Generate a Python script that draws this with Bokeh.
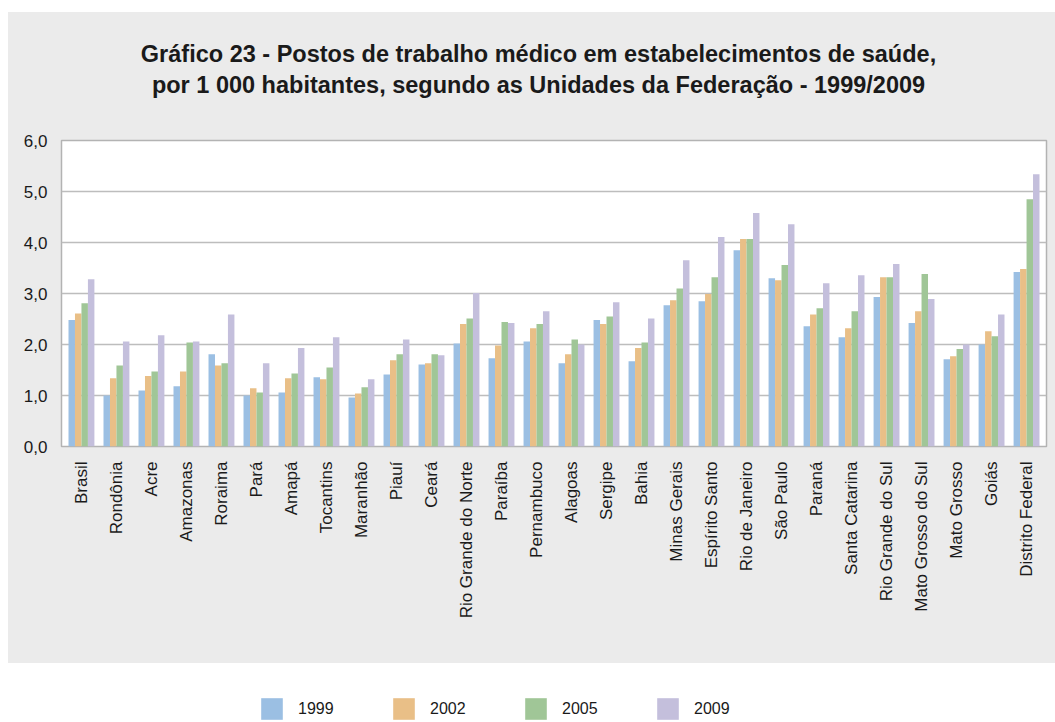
import math
from bokeh.plotting import figure
from bokeh.models import (FactorRange, Range1d, FixedTicker, Legend, LegendItem,
                          ColumnDataSource, Spacer)
from bokeh.core.properties import value
from bokeh.layouts import column, row
from bokeh.transform import dodge
from bokeh.embed import file_html
from bokeh.resources import INLINE

categories = ["Brasil", "Rondônia", "Acre", "Amazonas", "Roraima", "Pará", "Amapá",
              "Tocantins", "Maranhão", "Piauí", "Ceará", "Rio Grande do Norte", "Paraíba",
              "Pernambuco", "Alagoas", "Sergipe", "Bahia", "Minas Gerais", "Espírito Santo",
              "Rio de Janeiro", "São Paulo", "Paraná", "Santa Catarina", "Rio Grande do Sul",
              "Mato Grosso do Sul", "Mato Grosso", "Goiás", "Distrito Federal"]

v1999 = [2.48, 1.00, 1.10, 1.18, 1.81, 1.00, 1.06, 1.36, 0.96, 1.41, 1.61, 2.02, 1.73, 2.06,
         1.63, 2.48, 1.67, 2.77, 2.85, 3.85, 3.30, 2.36, 2.14, 2.93, 2.42, 1.71, 2.00, 3.42]
v2002 = [2.61, 1.34, 1.38, 1.47, 1.59, 1.14, 1.34, 1.32, 1.04, 1.69, 1.63, 2.40, 1.98, 2.32,
         1.81, 2.40, 1.93, 2.87, 2.99, 4.07, 3.26, 2.59, 2.32, 3.32, 2.65, 1.77, 2.26, 3.48]
v2005 = [2.81, 1.59, 1.47, 2.04, 1.63, 1.06, 1.43, 1.55, 1.16, 1.81, 1.81, 2.51, 2.44, 2.40,
         2.10, 2.55, 2.04, 3.10, 3.32, 4.07, 3.56, 2.71, 2.65, 3.32, 3.38, 1.91, 2.16, 4.85]
v2009 = [3.28, 2.06, 2.18, 2.06, 2.59, 1.63, 1.93, 2.14, 1.32, 2.10, 1.79, 3.01, 2.42, 2.65,
         2.00, 2.83, 2.51, 3.65, 4.11, 4.58, 4.36, 3.20, 3.36, 3.58, 2.89, 2.00, 2.59, 5.34]

series_names = ["1999", "2002", "2005", "2009"]
series_keys = ["v1999", "v2002", "v2005", "v2009"]
colors = ["#9bbfe3", "#e9bf87", "#a0c697", "#c4bfdc"]

y_ticks = [0, 1, 2, 3, 4, 5, 6]
y_tick_labels = ["0,0", "1,0", "2,0", "3,0", "4,0", "5,0", "6,0"]

title_lines = ["Gráfico 23 - Postos de trabalho médico em estabelecimentos de saúde,",
               "por 1 000 habitantes, segundo as Unidades da Federação - 1999/2009"]

FONT = "Liberation Sans"
GRAY_BG = "#ebebeb"
TXT = "#1a1a1a"

FIG_W = 1047
ML, MR = 53, 9
TITLE_TOP, TITLE_BOT = 12, 128     # grey title band in page pixels
TITLE_H = TITLE_BOT - TITLE_TOP
MT, MB = 12, 217
PLOT_H = 663 - TITLE_BOT           # grey chart band (page y 128..663)

# ---------------- title band (coordinates in page pixels) ----------------
tf = figure(width=FIG_W, height=TITLE_H, x_range=Range1d(61, 1046),
            y_range=Range1d(TITLE_BOT, TITLE_TOP),
            output_backend="svg", toolbar_location=None, x_axis_type=None, y_axis_type=None,
            min_border_left=ML, min_border_right=MR, min_border_top=0, min_border_bottom=0,
            outline_line_color=None, border_fill_color=GRAY_BG, background_fill_color=GRAY_BG,
            styles={"background-color": GRAY_BG})
tf.xgrid.grid_line_color = None
tf.ygrid.grid_line_color = None
title_src = ColumnDataSource(dict(x=[538, 538], y=[53, 84], t=title_lines))
tf.text(x="x", y="y", text="t", source=title_src, text_align="center",
        text_baseline="alphabetic", text_font=value(FONT), text_font_size="23.5px",
        text_font_style="bold", text_color=TXT)

# ---------------- chart ----------------
source = ColumnDataSource(dict(cat=categories, v1999=v1999, v2002=v2002, v2005=v2005, v2009=v2009))

p = figure(width=FIG_W, height=PLOT_H, x_range=FactorRange(*categories, range_padding=0.005),
           y_range=Range1d(0, 6),
           output_backend="svg", toolbar_location=None,
           min_border_left=ML, min_border_right=MR, min_border_top=MT, min_border_bottom=MB,
           border_fill_color=GRAY_BG, background_fill_color="white",
           outline_line_color="#b3b3b3", outline_line_width=1.5,
           styles={"background-color": GRAY_BG})

bw = 0.185
offsets = [-1.5 * bw, -0.5 * bw, 0.5 * bw, 1.5 * bw]
for key, off, col in zip(series_keys, offsets, colors):
    p.vbar(x=dodge("cat", off, range=p.x_range), top=key, width=bw, source=source,
           fill_color=col, line_color=None)

p.xgrid.grid_line_color = None
p.ygrid.grid_line_color = "#bdbdbd"
p.ygrid.grid_line_width = 1.5
p.ygrid.ticker = FixedTicker(ticks=y_ticks)

p.yaxis.ticker = FixedTicker(ticks=y_ticks)
p.yaxis.major_label_overrides = {t: l for t, l in zip(y_ticks, y_tick_labels)}
p.yaxis.axis_line_color = None
p.yaxis.major_tick_line_color = None
p.yaxis.minor_tick_line_color = None
p.yaxis.major_label_text_font = FONT
p.yaxis.major_label_text_font_size = "17px"
p.yaxis.major_label_text_color = TXT
p.yaxis.major_label_standoff = 8

p.xaxis.axis_line_color = None
p.xaxis.major_tick_line_color = None
p.xaxis.major_label_orientation = math.pi / 2
p.xaxis.major_label_text_font = FONT
p.xaxis.major_label_text_font_size = "17px"
p.xaxis.major_label_text_color = TXT
p.xaxis.major_label_standoff = 9

# ---------------- legend strip (white) ----------------
lg = figure(width=FIG_W, height=59, x_range=Range1d(0, 1), y_range=Range1d(0, 1),
            output_backend="svg", toolbar_location=None, x_axis_type=None, y_axis_type=None,
            min_border_left=ML, min_border_right=MR, min_border_top=0, min_border_bottom=0,
            outline_line_color=None, border_fill_color="white", background_fill_color="white")
lg.xgrid.grid_line_color = None
lg.ygrid.grid_line_color = None
items = []
for name, col in zip(series_names, colors):
    r = lg.vbar(x=[0.5], top=[-5], bottom=[-6], width=0.1, fill_color=col, line_color=None)
    items.append(LegendItem(label=name, renderers=[r]))
legend = Legend(items=items, orientation="horizontal", location=(197, 0),
                glyph_width=27, glyph_height=27, label_standoff=13, label_width=79, spacing=13,
                padding=0, margin=0, border_line_color=None, background_fill_alpha=0,
                label_text_font=FONT, label_text_font_size="16px", label_text_color=TXT)
lg.add_layout(legend, "center")

layout = row(Spacer(width=8, height=10),
             column(Spacer(width=10, height=12), tf, p, lg, spacing=0), spacing=0)
open("out.html", "w").write(file_html(layout, INLINE))
